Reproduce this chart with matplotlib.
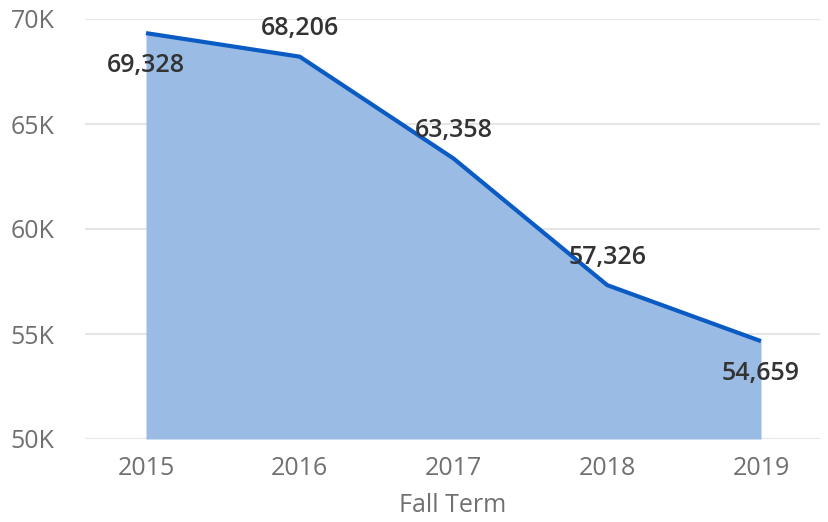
import matplotlib
matplotlib.use("Agg")
import matplotlib.pyplot as plt

years = [2015, 2016, 2017, 2018, 2019]
values = [69328, 68206, 63358, 57326, 54659]
label_pos = ["below", "above", "above", "above", "below"]
yticks = [50000, 55000, 60000, 65000, 70000]
ytick_labels = ["50K", "55K", "60K", "65K", "70K"]
xlabel = "Fall Term"

fig = plt.figure(figsize=(8.29, 5.22), dpi=100)
ax = fig.add_axes([85/829, 1-439/522, (820-85)/829, (439-19)/522])
ax.fill_between(years, values, 50000, color="#9ABBE3", linewidth=0, zorder=2)
ax.plot(years, values, color="#0A5BC4", linewidth=3, zorder=3, solid_capstyle="butt")

ax.set_ylim(50000, 70000)
ax.set_xlim(2015 - 61/153.75, 2019 + 59/153.75)
ax.set_yticks(yticks)
ax.set_yticklabels(ytick_labels)
ax.set_xticks(years)
ax.set_xticklabels([str(y) for y in years])
ax.grid(axis="y", color="#E6E6E6", linewidth=1.5, zorder=1)
ax.set_axisbelow(True)
for s in ax.spines.values():
    s.set_visible(False)
ax.tick_params(length=0, labelsize=18, labelcolor="#707070", pad=12)
ax.tick_params(axis="y", pad=22)
for lab in ax.get_xticklabels() + ax.get_yticklabels():
    lab.set_fontfamily("Open Sans")
ax.set_xlabel(xlabel, fontsize=18, color="#707070", family="Open Sans", labelpad=9)

for x, v, p in zip(years, values, label_pos):
    off = 20 if p == "above" else -23
    ax.annotate(f"{v:,}", (x, v), xytext=(0, off),
                textcoords="offset points", ha="center", va="center",
                fontsize=18, color="#333333", family="Open Sans", fontweight="semibold",
                zorder=4)

fig.savefig("out.png", dpi=100)
